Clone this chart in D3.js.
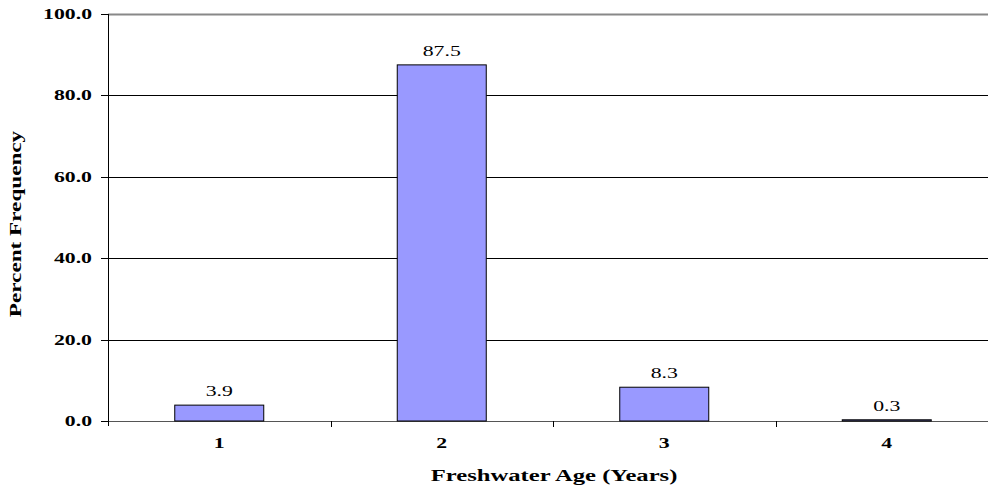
<!DOCTYPE html>
<html>
<head>
<meta charset="utf-8">
<script src="https://cdn.jsdelivr.net/npm/d3@7"></script>
<style>
  body { margin: 0; background: #fff; }
  text { font-family: "Liberation Serif", "Times New Roman", serif; fill: #000; }
</style>
</head>
<body>
<div id="chart"></div>
<script>
// chart data
let ages = ['1', '2', '3', '4'];
let percents = [3.9, 87.5, 8.3, 0.3];
let yTicks = [0, 20, 40, 60, 80, 100];

let width = 988, height = 486;
let margin = {top: 14, right: -10, bottom: 65, left: 108};
let stretch = 1.45; // the original text is drawn wide

let svg = d3.select('#chart').append('svg')
    .attr('width', width)
    .attr('height', height);

let xScale = d3.scaleBand()
    .domain(ages)
    .range([margin.left, width - margin.right])
    .paddingInner(0.6)
    .paddingOuter(0.3);

let bandScale = d3.scaleBand()
    .domain(ages)
    .range([margin.left, width - margin.right]);

let yScale = d3.scaleLinear()
    .domain([0, 100])
    .range([height - margin.bottom, margin.top]);

// gridlines
svg.append('g').selectAll('line')
    .data(yTicks)
    .enter().append('line')
    .attr('x1', margin.left)
    .attr('x2', width)
    .attr('y1', d => Math.round(yScale(d)) + 0.5)
    .attr('y2', d => Math.round(yScale(d)) + 0.5)
    .attr('stroke', d => d === 100 ? '#888' : (d === 0 ? '#555' : '#000'))
    .attr('stroke-width', d => d === 100 ? 2 : 1);

// bars
svg.append('g').selectAll('rect')
    .data(percents)
    .enter().append('rect')
    .attr('x', (d, i) => xScale(ages[i]))
    .attr('width', xScale.bandwidth())
    .attr('y', d => yScale(d))
    .attr('height', d => yScale(0) - yScale(d))
    .attr('fill', '#9999ff')
    .attr('stroke', '#000')
    .attr('stroke-width', 1);

// value labels
svg.append('g').selectAll('text')
    .data(percents)
    .enter().append('text')
    .attr('transform', (d, i) => `translate(${xScale(ages[i]) + xScale.bandwidth() / 2}, ${yScale(d) - 9}) scale(${stretch}, 1)`)
    .attr('text-anchor', 'middle')
    .style('font-size', '15px')
    .text(d => d.toFixed(1));

// y axis line + ticks
let y0 = Math.round(yScale(0)), y100 = Math.round(yScale(100));
svg.append('path')
    .attr('d', `M${margin.left + 0.5},${y100}V${y0 + 5}`)
    .attr('stroke', '#000')
    .attr('fill', 'none');

svg.append('g').selectAll('line')
    .data(yTicks)
    .enter().append('line')
    .attr('x1', margin.left - 7)
    .attr('x2', margin.left)
    .attr('y1', d => Math.round(yScale(d)) + 0.5)
    .attr('y2', d => Math.round(yScale(d)) + 0.5)
    .attr('stroke', '#000');

svg.append('g').selectAll('text')
    .data(yTicks)
    .enter().append('text')
    .attr('transform', d => `translate(92, ${yScale(d) + 5}) scale(${stretch}, 1)`)
    .attr('text-anchor', 'end')
    .style('font-size', '15px')
    .style('font-weight', 'bold')
    .text(d3.format('.1f'));

// x axis ticks at category boundaries
svg.append('g').selectAll('line')
    .data(ages.slice(1))
    .enter().append('line')
    .attr('x1', d => Math.round(bandScale(d)) + 0.5)
    .attr('x2', d => Math.round(bandScale(d)) + 0.5)
    .attr('y1', y0)
    .attr('y2', y0 + 6)
    .attr('stroke', '#000');

svg.append('g').selectAll('text')
    .data(ages)
    .enter().append('text')
    .attr('transform', d => `translate(${bandScale(d) + bandScale.bandwidth() / 2}, ${y0 + 27}) scale(${stretch}, 1)`)
    .attr('text-anchor', 'middle')
    .style('font-size', '15px')
    .style('font-weight', 'bold')
    .text(d => d);

// axis titles
svg.append('text')
    .attr('transform', `translate(554, 481) scale(${stretch}, 1)`)
    .attr('text-anchor', 'middle')
    .style('font-size', '17px')
    .style('font-weight', 'bold')
    .text('Freshwater Age (Years)');

svg.append('text')
    .attr('transform', `translate(21, 224) rotate(-90) scale(${stretch}, 1)`)
    .attr('text-anchor', 'middle')
    .style('font-size', '16px')
    .style('font-weight', 'bold')
    .text('Percent Frequency');
</script>
</body>
</html>
